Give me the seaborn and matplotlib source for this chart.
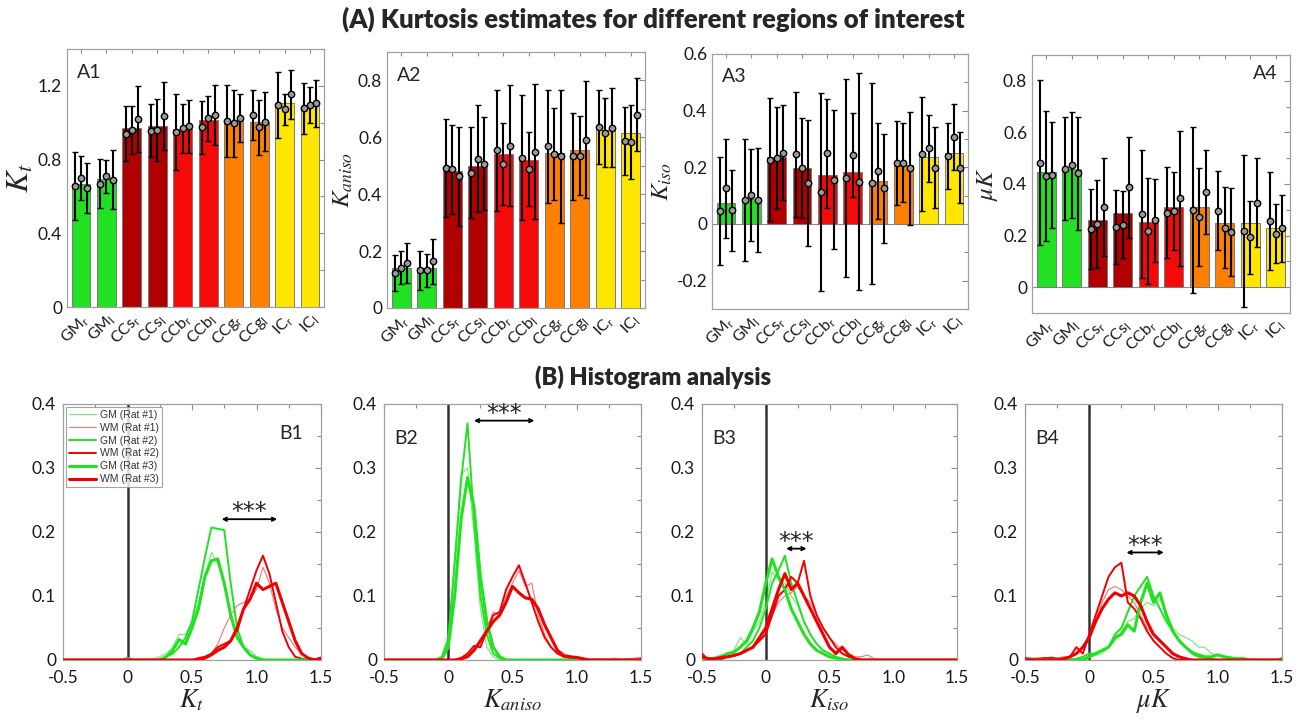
import numpy as np
import pandas as pd
import matplotlib
matplotlib.use("Agg")
import matplotlib.pyplot as plt
import seaborn as sns
from matplotlib.ticker import MultipleLocator, FixedLocator, FixedFormatter

sns.set_style("white")
plt.rcParams["font.family"] = ["Lato", "DejaVu Sans"]

# ---------------------------------------------------------------- data (A)
REGIONS = ["GM$_\\mathregular{r}$", "GM$_\\mathregular{l}$",
           "CCs$_\\mathregular{r}$", "CCs$_\\mathregular{l}$",
           "CCb$_\\mathregular{r}$", "CCb$_\\mathregular{l}$",
           "CCg$_\\mathregular{r}$", "CCg$_\\mathregular{l}$",
           "IC$_\\mathregular{r}$", "IC$_\\mathregular{l}$"]
REGION_COLORS = ["#22e022", "#22e022", "#b00000", "#b00000", "#f50a0a",
                 "#f50a0a", "#ff8000", "#ff8000", "#ffe600", "#ffe600"]
RAT_OFFSETS = [-0.25, 0.0, 0.25]

KT_MEAN = [0.665, 0.692, 0.973, 0.98, 0.968, 1.015, 1.011, 1.006, 1.105, 1.091]
KT_RATS = [[0.655, 0.70, 0.645], [0.67, 0.71, 0.69], [0.94, 0.96, 1.02],
           [0.957, 0.96, 1.037], [0.95, 0.97, 0.98], [0.975, 1.024, 1.042],
           [1.011, 0.997, 1.024], [1.042, 0.975, 1.006], [1.097, 1.073, 1.155],
           [1.078, 1.097, 1.105]]
KT_ERR = [[0.185, 0.12, 0.135], [0.135, 0.09, 0.16], [0.15, 0.13, 0.18],
          [0.145, 0.17, 0.185], [0.205, 0.134, 0.142], [0.145, 0.123, 0.165],
          [0.196, 0.183, 0.13], [0.137, 0.148, 0.16], [0.18, 0.083, 0.133],
          [0.137, 0.098, 0.127]]

KA_MEAN = [0.141, 0.141, 0.48, 0.50, 0.542, 0.521, 0.545, 0.556, 0.627, 0.616]
KA_RATS = [[0.124, 0.142, 0.158], [0.132, 0.132, 0.164], [0.492, 0.488, 0.463],
           [0.476, 0.524, 0.508], [0.554, 0.506, 0.57], [0.528, 0.488, 0.55],
           [0.568, 0.541, 0.533], [0.533, 0.536, 0.592], [0.636, 0.616, 0.634],
           [0.587, 0.583, 0.68]]
KA_ERR = [[0.064, 0.057, 0.069], [0.067, 0.058, 0.078], [0.173, 0.156, 0.174],
          [0.159, 0.188, 0.164], [0.214, 0.143, 0.213], [0.22, 0.13, 0.236],
          [0.198, 0.163, 0.235], [0.153, 0.138, 0.206], [0.129, 0.122, 0.138],
          [0.118, 0.13, 0.128]]

KI_MEAN = [0.073, 0.087, 0.238, 0.196, 0.173, 0.185, 0.152, 0.208, 0.238, 0.249]
KI_RATS = [[0.047, 0.126, 0.049], [0.085, 0.102, 0.085], [0.226, 0.232, 0.252],
           [0.246, 0.198, 0.145], [0.114, 0.249, 0.156], [0.162, 0.244, 0.15],
           [0.144, 0.187, 0.126], [0.216, 0.216, 0.196], [0.247, 0.267, 0.199],
           [0.24, 0.308, 0.199]]
KI_ERR = [[0.19, 0.175, 0.143], [0.214, 0.162, 0.184], [0.217, 0.18, 0.168],
          [0.22, 0.177, 0.222], [0.35, 0.193, 0.245], [0.35, 0.148, 0.383],
          [0.354, 0.168, 0.193], [0.149, 0.14, 0.198], [0.2, 0.118, 0.144],
          [0.116, 0.117, 0.126]]

MK_MEAN = [0.448, 0.457, 0.26, 0.287, 0.254, 0.309, 0.312, 0.247, 0.247, 0.23]
MK_RATS = [[0.483, 0.431, 0.435], [0.46, 0.474, 0.441], [0.227, 0.245, 0.312],
           [0.234, 0.243, 0.387], [0.282, 0.219, 0.26], [0.289, 0.296, 0.344],
           [0.299, 0.273, 0.37], [0.296, 0.23, 0.215], [0.219, 0.193, 0.328],
           [0.256, 0.208, 0.228]]
MK_ERR = [[0.319, 0.252, 0.207], [0.2, 0.205, 0.219], [0.155, 0.169, 0.19],
          [0.144, 0.131, 0.197], [0.248, 0.206, 0.161], [0.176, 0.152, 0.263],
          [0.323, 0.19, 0.162], [0.153, 0.157, 0.171], [0.294, 0.142, 0.172],
          [0.189, 0.116, 0.13]]

# ---------------------------------------------------------------- data (B)
BINS = [-0.5, -0.45, -0.4, -0.35, -0.3, -0.25, -0.2, -0.15, -0.1, -0.05,
        0.0, 0.05, 0.1, 0.15, 0.2, 0.25, 0.3, 0.35, 0.4, 0.45,
        0.5, 0.55, 0.6, 0.65, 0.7, 0.75, 0.8, 0.85, 0.9, 0.95,
        1.0, 1.05, 1.1, 1.15, 1.2, 1.25, 1.3, 1.35, 1.4, 1.45, 1.5]
SERIES = ["GM (Rat #1)", "WM (Rat #1)", "GM (Rat #2)", "WM (Rat #2)",
          "GM (Rat #3)", "WM (Rat #3)"]

KT_GM1 = [0, 0, 0, 0, 0, 0, 0, 0, 0, 0,
          0.003, 0, 0, 0, 0.002, 0.005, 0.01, 0.02, 0.04, 0.04,
          0.06, 0.09, 0.13, 0.168, 0.15, 0.12, 0.07, 0.04, 0.02, 0.015,
          0.005, 0.002, 0, 0, 0, 0, 0, 0, 0, 0, 0]
KT_WM1 = [0, 0, 0, 0, 0, 0, 0, 0, 0, 0,
          0, 0, 0, 0, 0, 0, 0, 0, 0, 0,
          0, 0, 0.003, 0.01, 0.025, 0.05, 0.07, 0.085, 0.09, 0.095,
          0.11, 0.145, 0.12, 0.08, 0.05, 0.035, 0.02, 0.01, 0.003, 0.002, 0.003]
KT_GM2 = [0, 0, 0, 0, 0, 0, 0, 0, 0, 0,
          0.003, 0, 0, 0, 0, 0, 0.005, 0.01, 0.02, 0.035,
          0.06, 0.11, 0.16, 0.207, 0.205, 0.203, 0.12, 0.05, 0.02, 0.008,
          0.002, 0, 0, 0, 0, 0, 0, 0, 0, 0, 0]
KT_WM2 = [0, 0, 0, 0, 0, 0, 0, 0, 0, 0,
          0, 0, 0, 0, 0, 0, 0, 0, 0, 0,
          0, 0.003, 0.005, 0.01, 0.02, 0.025, 0.03, 0.045, 0.08, 0.11,
          0.14, 0.163, 0.135, 0.09, 0.045, 0.02, 0.005, 0.002, 0, 0, 0.002]
KT_GM3 = [0, 0, 0, 0, 0, 0, 0, 0, 0, 0,
          0.002, 0, 0, 0, 0, 0, 0.005, 0.015, 0.032, 0.025,
          0.05, 0.08, 0.13, 0.155, 0.158, 0.12, 0.07, 0.035, 0.02, 0.008,
          0.003, 0, 0, 0, 0, 0, 0, 0, 0, 0, 0]
KT_WM3 = [0, 0, 0, 0, 0, 0, 0, 0, 0, 0,
          0, 0, 0, 0, 0, 0, 0, 0, 0, 0,
          0, 0, 0.003, 0.008, 0.015, 0.02, 0.03, 0.05, 0.08, 0.095,
          0.12, 0.11, 0.115, 0.12, 0.09, 0.06, 0.03, 0.01, 0.003, 0, 0.003]

KA_GM1 = [0, 0, 0, 0, 0, 0, 0, 0, 0, 0.005,
          0.04, 0.16, 0.29, 0.30, 0.20, 0.08, 0.02, 0.005, 0, 0,
          0, 0, 0, 0, 0, 0, 0, 0, 0, 0,
          0, 0, 0, 0, 0, 0, 0, 0, 0, 0, 0]
KA_WM1 = [0, 0, 0, 0, 0, 0, 0, 0, 0, 0,
          0, 0, 0, 0.005, 0.015, 0.03, 0.05, 0.075, 0.07, 0.10,
          0.12, 0.14, 0.115, 0.12, 0.07, 0.04, 0.02, 0.01, 0.005, 0.003,
          0.004, 0.002, 0.001, 0.002, 0.002, 0.001, 0.003, 0.001, 0.002, 0.003, 0.004]
KA_GM2 = [0, 0, 0, 0, 0, 0, 0, 0, 0, 0.005,
          0.03, 0.15, 0.28, 0.37, 0.22, 0.10, 0.04, 0.01, 0.003, 0,
          0, 0, 0, 0, 0, 0, 0, 0, 0, 0,
          0, 0, 0, 0, 0, 0, 0, 0, 0, 0, 0]
KA_WM2 = [0, 0, 0, 0, 0, 0, 0, 0, 0, 0,
          0, 0, 0.003, 0.01, 0.022, 0.02, 0.045, 0.07, 0.075, 0.11,
          0.13, 0.148, 0.12, 0.09, 0.06, 0.035, 0.02, 0.01, 0.005, 0.003,
          0.002, 0, 0, 0, 0, 0, 0, 0, 0, 0, 0.002]
KA_GM3 = [0, 0, 0, 0, 0, 0, 0, 0, 0, 0.002,
          0.02, 0.10, 0.22, 0.285, 0.24, 0.13, 0.06, 0.02, 0.005, 0,
          0, 0, 0, 0, 0, 0, 0, 0, 0, 0,
          0, 0, 0, 0, 0, 0, 0, 0, 0, 0, 0]
KA_WM3 = [0, 0, 0, 0, 0, 0, 0, 0, 0, 0,
          0, 0, 0.002, 0.005, 0.015, 0.03, 0.045, 0.06, 0.07, 0.09,
          0.115, 0.105, 0.097, 0.095, 0.08, 0.055, 0.035, 0.015, 0.007, 0.005,
          0.004, 0.002, 0, 0, 0, 0, 0, 0, 0, 0, 0]

KI_GM1 = [0.003, 0.002, 0.005, 0.008, 0.01, 0.015, 0.035, 0.025, 0.045, 0.06,
          0.09, 0.138, 0.125, 0.12, 0.10, 0.085, 0.06, 0.04, 0.025, 0.015,
          0.01, 0.005, 0.003, 0, 0, 0, 0, 0, 0, 0,
          0, 0, 0, 0, 0, 0, 0, 0, 0, 0, 0]
KI_WM1 = [0, 0, 0, 0, 0.005, 0.007, 0.01, 0.015, 0.02, 0.03,
          0.045, 0.07, 0.09, 0.10, 0.105, 0.115, 0.10, 0.09, 0.07, 0.05,
          0.035, 0.025, 0.015, 0.01, 0.005, 0.005, 0.008, 0.002, 0, 0,
          0, 0, 0, 0, 0, 0, 0, 0, 0, 0, 0]
KI_GM2 = [0, 0, 0, 0, 0.005, 0.007, 0.01, 0.02, 0.03, 0.05,
          0.08, 0.12, 0.14, 0.163, 0.12, 0.09, 0.06, 0.04, 0.025, 0.015,
          0.01, 0.005, 0.002, 0, 0, 0, 0, 0, 0, 0,
          0, 0, 0, 0, 0, 0, 0, 0, 0, 0, 0]
KI_WM2 = [0.01, 0, 0, 0.002, 0.005, 0.007, 0.01, 0.015, 0.02, 0.03,
          0.04, 0.07, 0.10, 0.11, 0.13, 0.12, 0.155, 0.10, 0.07, 0.05,
          0.035, 0.02, 0.01, 0.005, 0.002, 0, 0, 0, 0, 0,
          0, 0, 0, 0, 0, 0, 0, 0, 0, 0, 0]
KI_GM3 = [0.005, 0.002, 0, 0.005, 0.01, 0.012, 0.02, 0.03, 0.05, 0.075,
          0.12, 0.158, 0.13, 0.11, 0.08, 0.06, 0.04, 0.025, 0.015, 0.01,
          0.005, 0.003, 0.001, 0, 0, 0, 0, 0, 0, 0,
          0, 0, 0, 0, 0, 0, 0, 0, 0, 0, 0]
KI_WM3 = [0.005, 0.002, 0.002, 0.004, 0.005, 0.007, 0.01, 0.015, 0.02, 0.035,
          0.05, 0.08, 0.11, 0.135, 0.11, 0.12, 0.10, 0.08, 0.06, 0.04,
          0.02, 0.01, 0.02, 0.008, 0.002, 0, 0, 0, 0, 0,
          0, 0, 0, 0, 0, 0, 0, 0, 0, 0, 0]

MK_GM1 = [0.002, 0.002, 0.003, 0.003, 0.004, 0.003, 0.002, 0.002, 0.002, 0.003,
          0.005, 0.007, 0.01, 0.02, 0.03, 0.045, 0.06, 0.065, 0.08, 0.09,
          0.085, 0.095, 0.075, 0.05, 0.04, 0.035, 0.03, 0.02, 0.02, 0.01,
          0.008, 0.006, 0.005, 0.003, 0.003, 0.002, 0, 0, 0, 0, 0]
MK_WM1 = [0, 0, 0, 0, 0.005, 0.003, 0.005, 0.005, 0.01, 0.02,
          0.04, 0.06, 0.09, 0.11, 0.115, 0.11, 0.10, 0.09, 0.07, 0.05,
          0.04, 0.03, 0.02, 0.01, 0.005, 0, 0, 0, 0, 0,
          0, 0, 0, 0, 0, 0, 0, 0, 0, 0, 0]
MK_GM2 = [0.002, 0, 0, 0, 0.003, 0, 0, 0, 0.002, 0.005,
          0.01, 0.01, 0.015, 0.02, 0.04, 0.05, 0.075, 0.10, 0.115, 0.13,
          0.10, 0.08, 0.06, 0.045, 0.03, 0.02, 0.01, 0.005, 0.003, 0.002,
          0, 0, 0, 0, 0, 0, 0, 0, 0, 0, 0.003]
MK_WM2 = [0.003, 0.002, 0.002, 0.003, 0.003, 0.002, 0, 0.005, 0.02, 0.01,
          0.04, 0.07, 0.10, 0.13, 0.145, 0.152, 0.09, 0.08, 0.065, 0.045,
          0.03, 0.02, 0.01, 0.003, 0, 0, 0, 0, 0, 0,
          0, 0, 0, 0, 0, 0, 0, 0, 0, 0, 0]
MK_GM3 = [0, 0, 0, 0, 0, 0, 0, 0, 0, 0,
          0.005, 0.01, 0.015, 0.02, 0.035, 0.04, 0.055, 0.045, 0.09, 0.12,
          0.09, 0.105, 0.07, 0.045, 0.03, 0.02, 0.012, 0.008, 0.005, 0.005,
          0.008, 0.005, 0.003, 0.002, 0.002, 0, 0, 0, 0, 0, 0]
MK_WM3 = [0, 0, 0, 0, 0, 0, 0.002, 0.005, 0.01, 0.02,
          0.035, 0.06, 0.08, 0.095, 0.105, 0.10, 0.105, 0.10, 0.085, 0.06,
          0.04, 0.03, 0.02, 0.01, 0.005, 0.002, 0, 0, 0, 0,
          0, 0, 0, 0, 0, 0, 0, 0, 0, 0, 0]

# ---------------------------------------------------------------- styling
GREEN = "#22e022"
RED = "#f00000"
LINE_STYLE = {  # name -> (color, width, alpha)
    "GM (Rat #1)": (GREEN, 0.8, 0.65),
    "WM (Rat #1)": (RED, 0.8, 0.55),
    "GM (Rat #2)": (GREEN, 1.4, 1.0),
    "WM (Rat #2)": (RED, 1.4, 1.0),
    "GM (Rat #3)": (GREEN, 2.2, 1.0),
    "WM (Rat #3)": (RED, 2.2, 1.0),
}
SPINE = "#a0a0a0"
W, H = 1306, 721


def px_axes(fig, left, top, right, bottom):
    return fig.add_axes([left / W, 1 - bottom / H, (right - left) / W, (bottom - top) / H])


def style_box(ax):
    for s in ax.spines.values():
        s.set_color(SPINE)
        s.set_linewidth(0.9)
        s.set_visible(True)
    ax.tick_params(axis="both", which="both", direction="in", top=True, right=True,
                   color="#8c8c8c", labelcolor="#1a1a1a", width=0.8)
    ax.tick_params(which="major", length=4)
    ax.tick_params(which="minor", length=3)


def bar_panel(ax, means, rats, errs, ylim, major, minor, ticklabels,
              ylabel, ylabel_size, tag, tag_right=False, zero_line=False):
    df = pd.DataFrame({"region": REGIONS, "value": means})
    if zero_line:
        ax.axhline(0, color="#8c8c8c", lw=0.8, zorder=0)
    sns.barplot(data=df, x="region", y="value", hue="region", palette=REGION_COLORS,
                legend=False, ax=ax, width=0.74, saturation=1, errorbar=None,
                edgecolor="#7a7a7a", linewidth=0.7, zorder=2)
    for i in range(len(REGIONS)):
        for j, off in enumerate(RAT_OFFSETS):
            ax.errorbar(i + off, rats[i][j], yerr=errs[i][j], fmt="o", ms=4.6,
                        mfc="#9a9a9a", mec="black", mew=1.0, ecolor="black",
                        elinewidth=1.5, capsize=2.5, capthick=1.2, zorder=5)
    ax.set_xlim(-0.55, 9.55)
    ax.set_ylim(*ylim)
    style_box(ax)
    ax.yaxis.set_major_locator(FixedLocator(major))
    ax.yaxis.set_major_formatter(FixedFormatter(ticklabels))
    ax.yaxis.set_minor_locator(MultipleLocator(minor))
    ax.tick_params(axis="y", labelsize=12.5)
    ax.set_xticks(range(len(REGIONS)))
    ax.set_xticklabels(REGIONS, rotation=45, ha="right", rotation_mode="anchor",
                       fontsize=11.5)
    ax.tick_params(axis="x", which="both", length=3, pad=3)
    ax.set_xlabel("")
    ax.set_ylabel(ylabel, fontsize=ylabel_size, math_fontfamily="stix", labelpad=2)
    if tag_right:
        ax.text(0.95, 0.93, tag, transform=ax.transAxes, ha="right", va="center", fontsize=14)
    else:
        ax.text(0.04, 0.91, tag, transform=ax.transAxes, ha="left", va="center", fontsize=14)


def hist_panel(ax, curves, xlabel, tag, sig, tag_right=False, legend=False):
    ax.axvline(0, color="#333333", lw=1.8, zorder=1)
    for name, vals in zip(SERIES, curves):
        c, lw, a = LINE_STYLE[name]
        sns.lineplot(x=BINS, y=vals, ax=ax, color=c, linewidth=lw, alpha=a,
                     label=name, legend=False, zorder=3)
    ax.set_xlim(-0.5, 1.5)
    ax.set_ylim(0, 0.4)
    style_box(ax)
    ax.xaxis.set_major_locator(FixedLocator([-0.5, 0, 0.5, 1.0, 1.5]))
    ax.xaxis.set_major_formatter(FixedFormatter(["-0.5", "0", "0.5", "1.0", "1.5"]))
    ax.xaxis.set_minor_locator(MultipleLocator(0.25))
    ax.yaxis.set_major_locator(FixedLocator([0, 0.1, 0.2, 0.3, 0.4]))
    ax.yaxis.set_major_formatter(FixedFormatter(["0", "0.1", "0.2", "0.3", "0.4"]))
    ax.yaxis.set_minor_locator(MultipleLocator(0.05))
    ax.tick_params(axis="both", labelsize=12.5)
    ax.tick_params(axis="x", pad=7)
    ax.tick_params(axis="y", pad=5)
    ax.set_xlabel(xlabel, fontsize=19, math_fontfamily="stix", labelpad=1)
    ax.set_ylabel("")
    x0, x1, y = sig
    ax.annotate("", xy=(x0, y), xytext=(x1, y),
                arrowprops=dict(arrowstyle="<->", color="black", lw=1.3,
                                shrinkA=0, shrinkB=0, mutation_scale=6))
    ax.text((x0 + x1) / 2, y - 0.008, "***", ha="center", va="bottom",
            fontsize=17, family="DejaVu Sans")
    if tag_right:
        ax.text(0.93, 0.885, tag, transform=ax.transAxes, ha="right", va="center", fontsize=14)
    else:
        ax.text(0.04, 0.865, tag, transform=ax.transAxes, ha="left", va="center", fontsize=14)
    if legend:
        leg = ax.legend(loc="upper left", frameon=True, fancybox=False,
                        edgecolor="#8c8c8c", borderaxespad=0.25, handlelength=2.6,
                        labelspacing=0.28, borderpad=0.3, handletextpad=0.4,
                        prop={"family": "Liberation Sans", "size": 7.5})
        leg.get_frame().set_linewidth(0.8)
        for t in leg.get_texts():
            t.set_color("#333333")


fig = plt.figure(figsize=(W / 100, H / 100), dpi=100)

fig.text(0.5, 1 - 19 / H, "(A) Kurtosis estimates for different regions of interest",
         ha="center", va="center", fontsize=18.5, fontweight="heavy")
fig.text(0.5, 1 - 377 / H, "(B) Histogram analysis",
         ha="center", va="center", fontsize=17, fontweight="heavy")

a1 = px_axes(fig, 67, 49, 324, 307)
bar_panel(a1, KT_MEAN, KT_RATS, KT_ERR, (0, 1.4), [0, 0.4, 0.8, 1.2], 0.2,
          ["0", "0.4", "0.8", "1.2"], "$K_t$", 23, "A1")
a2 = px_axes(fig, 387, 52, 645, 308)
bar_panel(a2, KA_MEAN, KA_RATS, KA_ERR, (0, 0.9), [0, 0.2, 0.4, 0.6, 0.8], 0.1,
          ["0", "0.2", "0.4", "0.6", "0.8"], "$K_{aniso}$", 18, "A2")
a3 = px_axes(fig, 712, 54, 968, 309)
bar_panel(a3, KI_MEAN, KI_RATS, KI_ERR, (-0.3, 0.6), [-0.2, 0, 0.2, 0.4, 0.6], 0.1,
          ["-0.2", "0", "0.2", "0.4", "0.6"], "$K_{iso}$", 18, "A3", zero_line=True)
a4 = px_axes(fig, 1032, 55, 1290, 313)
bar_panel(a4, MK_MEAN, MK_RATS, MK_ERR, (-0.1, 0.9), [0, 0.2, 0.4, 0.6, 0.8], 0.1,
          ["0", "0.2", "0.4", "0.6", "0.8"], "$\\mu K$", 18, "A4", tag_right=True,
          zero_line=True)

b1 = px_axes(fig, 63, 404, 321, 660)
hist_panel(b1, [KT_GM1, KT_WM1, KT_GM2, KT_WM2, KT_GM3, KT_WM3], "$K_t$", "B1",
           (0.73, 1.16, 0.22), tag_right=True, legend=True)
b2 = px_axes(fig, 384, 404, 641, 660)
hist_panel(b2, [KA_GM1, KA_WM1, KA_GM2, KA_WM2, KA_GM3, KA_WM3], "$K_{aniso}$", "B2",
           (0.20, 0.67, 0.374))
b3 = px_axes(fig, 702, 404, 957, 660)
hist_panel(b3, [KI_GM1, KI_WM1, KI_GM2, KI_WM2, KI_GM3, KI_WM3], "$K_{iso}$", "B3",
           (0.16, 0.32, 0.174))
b4 = px_axes(fig, 1025, 404, 1282, 660)
hist_panel(b4, [MK_GM1, MK_WM1, MK_GM2, MK_WM2, MK_GM3, MK_WM3], "$\\mu K$", "B4",
           (0.29, 0.58, 0.168))

fig.savefig("out.png", dpi=100, facecolor="white")
